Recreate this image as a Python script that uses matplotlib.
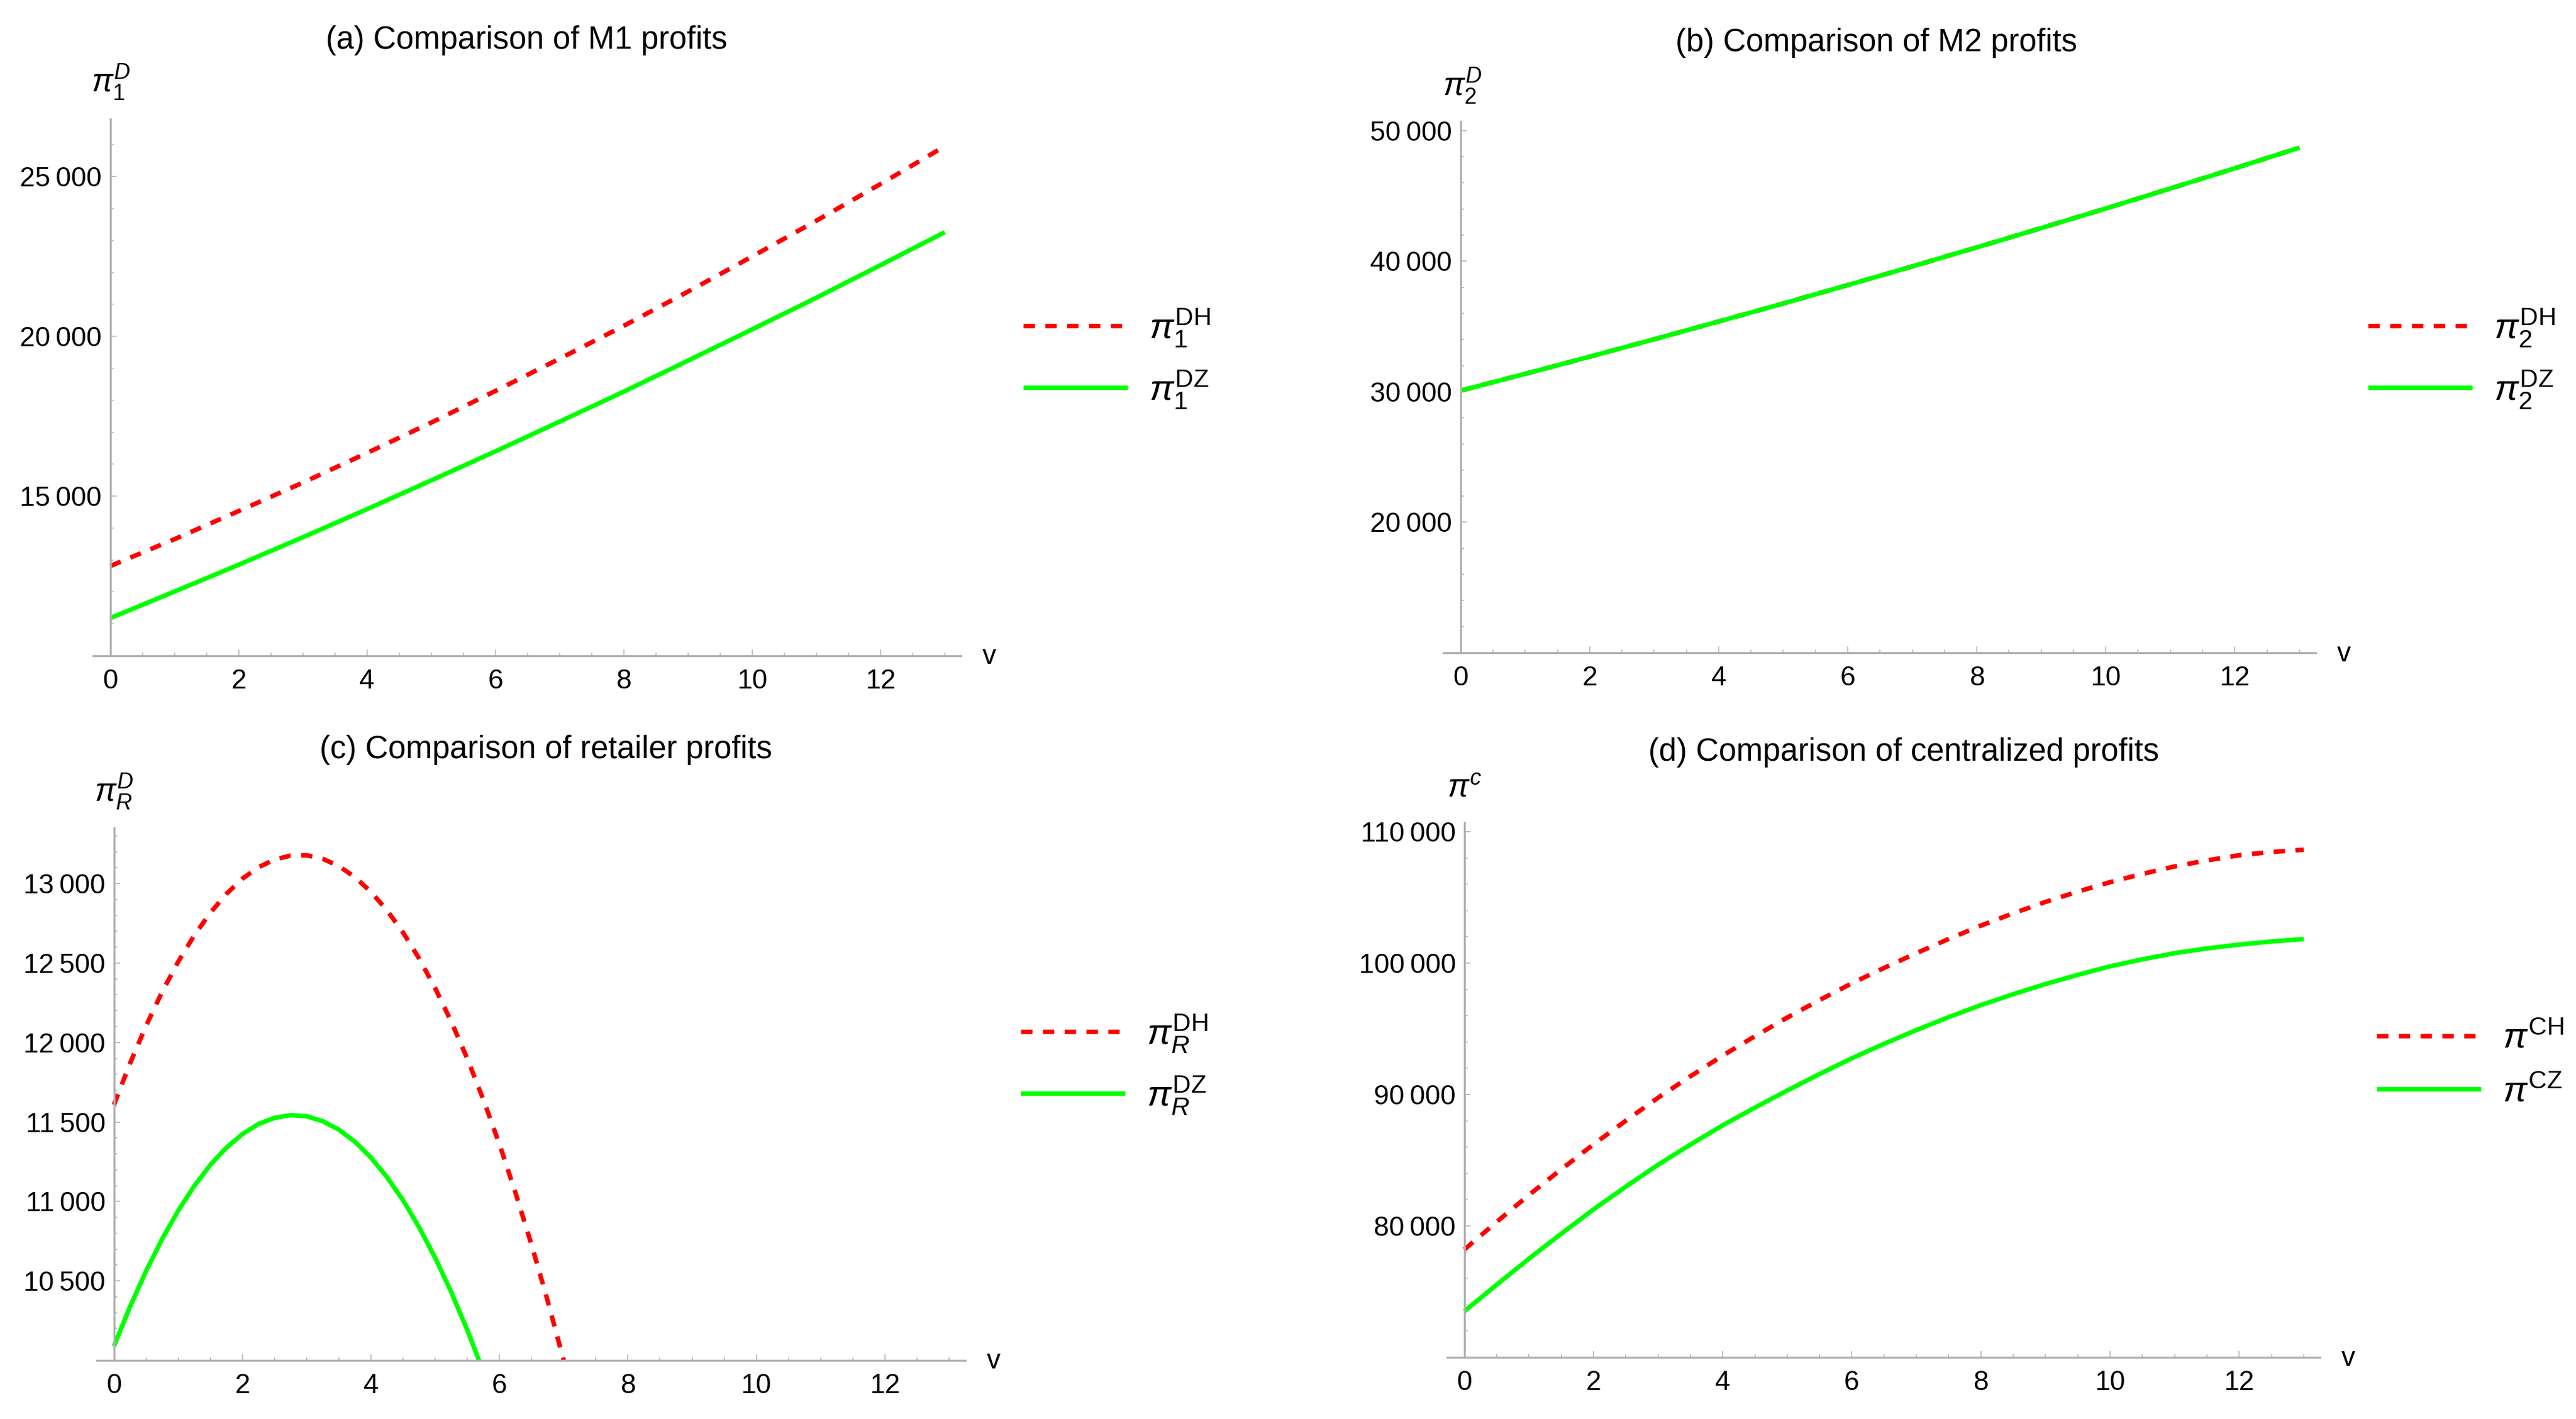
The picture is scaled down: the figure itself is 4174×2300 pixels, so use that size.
import matplotlib
matplotlib.use('Agg')
import matplotlib.pyplot as plt
from matplotlib.ticker import MultipleLocator, FuncFormatter
from matplotlib.lines import Line2D

W, H = 4174, 2300

plt.rcParams['font.family'] = ['Liberation Sans', 'DejaVu Sans']
plt.rcParams['mathtext.fontset'] = 'custom'
plt.rcParams['mathtext.rm'] = 'Liberation Sans'
plt.rcParams['mathtext.it'] = 'Liberation Sans:italic'
plt.rcParams['mathtext.bf'] = 'Liberation Sans:bold'

# data
v = [0, 1, 2, 3, 4, 5, 6, 7, 8, 9, 10, 11, 12, 13]

m1_dh = [12810, 13650, 14530, 15420, 16350, 17300, 18290,
         19300, 20330, 21400, 22500, 23620, 24770, 25950]
m1_dz = [11180, 12010, 12850, 13710, 14590, 15490, 16400,
         17330, 18270, 19240, 20220, 21210, 22230, 23260]

m2_dh = [30080, 31370, 32680, 34020, 35380, 36760, 38170,
         39600, 41060, 42540, 44040, 45570, 47120, 48700]
m2_dz = [30080, 31370, 32680, 34020, 35380, 36760, 38170,
         39600, 41060, 42540, 44040, 45570, 47120, 48700]

v_r = [0, 0.25, 0.5, 0.75, 1, 1.25, 1.5, 1.75, 2, 2.25, 2.5, 2.75, 3, 3.25, 3.5,
       3.75, 4, 4.25, 4.5, 4.75, 5, 5.25, 5.5, 5.75, 6, 6.25, 6.5, 6.75, 7, 7.25]
r_dh = [11608, 11868, 12105, 12318, 12508, 12674, 12816, 12935, 13031, 13103,
        13151, 13176, 13178, 13156, 13110, 13041, 12948, 12832, 12692, 12529,
        12342, 12132, 11898, 11641, 11360, 11055, 10727, 10376, 10001, 9602]
r_dz = [10089, 10337, 10562, 10763, 10942, 11097, 11230, 11338, 11424, 11487,
        11526, 11543, 11536, 11505, 11452, 11376, 11276, 11153, 11007, 10838,
        10645, 10430, 10191, 9929, 9643]

v_c = [0, 0.5, 1, 1.5, 2, 2.5, 3, 3.5, 4, 4.5, 5, 5.5, 6, 6.5,
       7, 7.5, 8, 8.5, 9, 9.5, 10, 10.5, 11, 11.5, 12, 12.5, 13]
c_h = [78200, 80300, 82350, 84300, 86200, 88000, 89750, 91380, 92950, 94430,
       95850, 97180, 98450, 99630, 100750, 101830, 102850, 103780, 104650,
       105430, 106150, 106780, 107350, 107810, 108200, 108450, 108620]
c_z = [73500, 75520, 77500, 79400, 81250, 82980, 84650, 86180, 87650, 89000,
       90300, 91550, 92750, 93850, 94900, 95880, 96800, 97630, 98400, 99100,
       99750, 100280, 100750, 101110, 101400, 101640, 101830]

fig = plt.figure(figsize=(W / 100, H / 100), dpi=100)

RED = '#ff0000'
GREEN = '#00ff00'
AXC = '#b0b0b0'
LW = 5.3
DASH = (2.5, 2.3)


def rect(l, t, r, b):
    return [l / W, 1 - b / H, (r - l) / W, (b - t) / H]


def thin(val, pos):
    return '{:,}'.format(int(round(val))).replace(',', '\u2009')


def panel(box, ylim, ymaj, ymin, title, tpos, ylab, lpos, xh, yh, xz, yz,
          labs, legpos):
    ax = fig.add_axes(rect(*box))
    ax.plot(xh, yh, color=RED, lw=LW, dashes=DASH, dash_capstyle='butt')
    ax.plot(xz, yz, color=GREEN, lw=LW, solid_capstyle='butt')
    ax.set_xlim(-0.265, 13.25)
    ax.set_ylim(*ylim)
    for s in ['top', 'right']:
        ax.spines[s].set_visible(False)
    ax.spines['left'].set_position(('data', 0))
    for s in ['left', 'bottom']:
        ax.spines[s].set_color(AXC)
        ax.spines[s].set_linewidth(2.4)
    ax.xaxis.set_major_locator(MultipleLocator(2))
    ax.xaxis.set_minor_locator(MultipleLocator(0.5))
    ax.yaxis.set_major_locator(MultipleLocator(ymaj))
    ax.yaxis.set_minor_locator(MultipleLocator(ymin))
    ax.yaxis.set_major_formatter(FuncFormatter(
        lambda val, pos: '' if abs(val - ylim[0]) < 1e-6 else thin(val, pos)))
    ax.tick_params(which='both', direction='in', color=AXC, width=1.1,
                   labelsize=32, labelcolor='black')
    ax.tick_params(which='major', length=7)
    ax.tick_params(which='minor', length=3.6)
    ax.tick_params(axis='x', pad=15)
    ax.tick_params(axis='y', pad=10)
    fig.text(tpos[0] / W, 1 - tpos[1] / H, title, fontsize=37,
             ha='center', va='center')
    fig.text(lpos[0] / W, 1 - lpos[1] / H, ylab, fontsize=37,
             ha='center', va='center')
    fig.text((box[2] + 46) / W, 1 - (box[3] + 2) / H, 'v', fontsize=32,
             ha='center', va='center')
    handles = [Line2D([], [], color=RED, lw=LW, dashes=DASH, dash_capstyle='butt'),
               Line2D([], [], color=GREEN, lw=LW, solid_capstyle='butt')]
    ax.legend(handles, labs, loc='center left', frameon=False, fontsize=42,
              bbox_to_anchor=(legpos[0] / W, 1 - legpos[1] / H),
              bbox_transform=fig.transFigure, borderpad=0, borderaxespad=0,
              handlelength=2.9, handletextpad=0.6, labelspacing=0.55)
    return ax


panel((151, 193, 1557, 1063), (10000, 26800), 5000, 1000,
      '(a) Comparison of M1 profits', (853, 66), r'$\pi_1^{D}$', (180, 134),
      v, m1_dh, v, m1_dz,
      [r'$\pi_1^{\mathrm{DH}}$', r'$\pi_1^{\mathrm{DZ}}$'], (1658, 581))

panel((2339, 197, 3752, 1058), (10000, 50700), 10000, 2000,
      '(b) Comparison of M2 profits', (3040, 70), r'$\pi_2^{D}$', (2370, 140),
      v, m2_dh, v, m2_dz,
      [r'$\pi_2^{\mathrm{DH}}$', r'$\pi_2^{\mathrm{DZ}}$'], (3837, 581))

panel((157, 1342, 1564, 2205), (10000, 13350), 500, 100,
      '(c) Comparison of retailer profits', (885, 1216), r'$\pi_R^{D}$', (185, 1284),
      v_r, r_dh, v_r[:len(r_dz)], r_dz,
      [r'$\pi_R^{\mathrm{DH}}$', r'$\pi_R^{\mathrm{DZ}}$'], (1654, 1725))

panel((2345, 1333, 3759, 2200), (70000, 110700), 10000, 2000,
      '(d) Comparison of centralized profits', (3085, 1220), r'$\pi^{c}$', (2373, 1278),
      v_c, c_h, v_c, c_z,
      [r'$\pi^{\mathrm{CH}}$', r'$\pi^{\mathrm{CZ}}$'], (3851, 1727))

fig.savefig('out.png', dpi=100)
